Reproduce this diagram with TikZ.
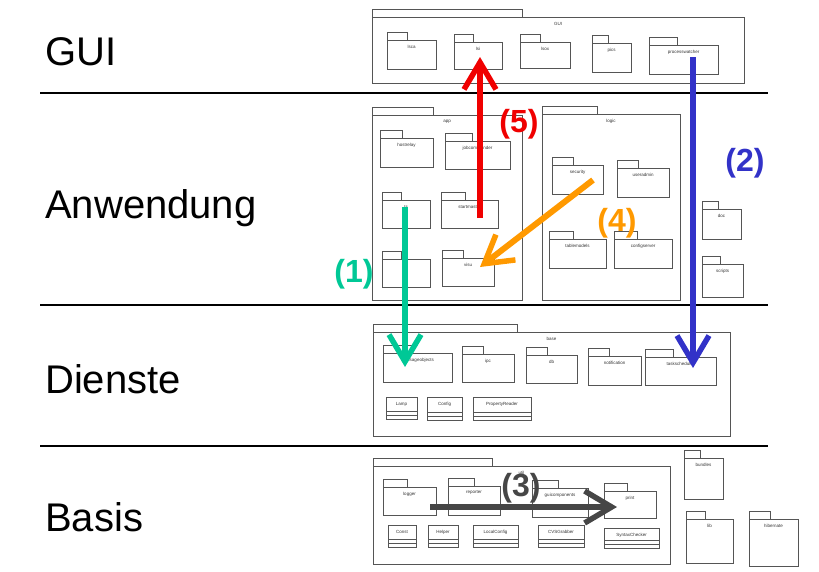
\documentclass[tikz,border=0pt]{standalone}
\usepackage{fontspec}
\setmainfont{Liberation Sans}
\usetikzlibrary{arrows.meta,fit}

\definecolor{c1}{RGB}{0,200,150}
\definecolor{c2}{RGB}{50,50,200}
\definecolor{c3}{RGB}{70,70,70}
\definecolor{c4}{RGB}{255,153,0}
\definecolor{c5}{RGB}{240,0,0}
\definecolor{pkggray}{RGB}{85,85,85}

\tikzset{
  pkgline/.style={draw=pkggray,line width=1pt},
  pkgbody/.style={pkgline,inner sep=0pt,outer sep=0pt},
  pkgtext/.style={font=\fontsize{4.5}{5}\selectfont,inner sep=0pt,text=black!80},
  layer/.style={font=\fontsize{40}{44}\selectfont,anchor=base west,inner sep=0pt},
  step label/.style={font=\fontsize{32}{36}\selectfont\bfseries,inner sep=0pt},
  dep/.style={line width=6pt,-{Straight Barb[length=27pt,width=32pt,line width=5.5pt]}},
  sep/.style={line width=2.2pt}
}

% folder: name, x1, y1, x2, y2, tab width, text
\newcommand{\folder}[7]{%
  \node[pkgbody,fit={(#2,#3) (#4,#5)}] (#1) {};
  \draw[pkgline] (#1.north west) rectangle ++(#6,-7.5);
  \node[pkgtext] at ([yshift=-7pt]#1.north) {#7};
}
% class: name, x1, y1, x2, y2, text
\newcommand{\cls}[6]{%
  \node[pkgbody,fit={(#2,#3) (#4,#5)}] (#1) {};
  \draw[pkgline] ([yshift=8pt]#1.south west) -- ([yshift=8pt]#1.south east);
  \draw[pkgline] ([yshift=4pt]#1.south west) -- ([yshift=4pt]#1.south east);
  \node[pkgtext] at ([yshift=-7pt]#1.north) {#6};
}

\begin{document}
\begin{tikzpicture}[x=1pt,y=-1pt]
  \useasboundingbox (0,0) rectangle (819,571);

  \draw (45,65) node[layer] (gui) {GUI};
  \draw (45,218) node[layer] (anwendung) {Anwendung};
  \draw (45,393) node[layer] (dienste) {Dienste};
  \draw (45,531) node[layer] (basis) {Basis};

  \coordinate (sepA0) at (40,93);  \coordinate (sepA1) at (768,93);
  \coordinate (sepB0) at (40,305); \coordinate (sepB1) at (768,305);
  \coordinate (sepC0) at (40,446); \coordinate (sepC1) at (768,446);
  \draw[sep] (sepA0) -- (sepA1);
  \draw[sep] (sepB0) -- (sepB1);
  \draw[sep] (sepC0) -- (sepC1);

  \folder{guipkg}{372}{17}{744}{83}{150}{GUI}
  \folder{lsca}{387}{40}{436}{69}{20}{lsca}
  \folder{lsi}{454}{42}{502}{69}{19}{lsi}
  \folder{lsox}{520}{42}{570}{68}{20}{lsox}
  \folder{pics}{592}{43}{631}{72}{16}{pics}
  \folder{processwatcher}{649}{45}{718}{74}{28}{processwatcher}

  \folder{app}{372}{115}{522}{300}{61}{app}
  \folder{hostrelay}{380}{138}{433}{167}{22}{hostrelay}
  \folder{jobcommander}{445}{141}{510}{169}{27}{jobcommander}
  \folder{ts}{382}{200}{430}{228}{19}{ts}
  \folder{startmaster}{441}{200}{498}{228}{24}{startmaster}
  \folder{ui}{382}{259}{430}{287}{19}{ui}
  \folder{visu}{442}{258}{494}{286}{21}{visu}

  \folder{logic}{542}{114}{680}{300}{55}{logic}
  \folder{security}{552}{165}{603}{194}{21}{security}
  \folder{useradmin}{617}{168}{669}{197}{21}{useradmin}
  \folder{tablemodels}{549}{239}{606}{268}{24}{tablemodels}
  \folder{configserver}{614}{239}{672}{268}{23}{configserver}

  \folder{doc}{702}{209}{741}{239}{16}{doc}
  \folder{scripts}{702}{264}{743}{297}{18}{scripts}

  \folder{base}{373}{332}{730}{436}{144}{base}
  \folder{messageobjects}{383}{353}{452}{382}{29}{messageobjects}
  \folder{ipc}{462}{354}{514}{382}{21}{ipc}
  \folder{db}{526}{355}{577}{383}{21}{db}
  \folder{notification}{588}{356}{641}{385}{21}{notification}
  \folder{taskscheduler}{645}{357}{716}{385}{28}{taskscheduler}
  \cls{lamp}{386}{397}{417}{419}{Lamp}
  \cls{config}{427}{397}{462}{420}{Config}
  \cls{propertyreader}{473}{397}{531}{420}{PropertyReader}

  \folder{util}{373}{466}{670}{564}{119}{util}
  \folder{logger}{383}{487}{436}{515}{24}{logger}
  \folder{reporter}{448}{486}{500}{515}{26}{reporter}
  \folder{guicomponents}{532}{488}{588}{517}{26}{guicomponents}
  \folder{print}{604}{491}{656}{518}{23}{print}
  \cls{const}{388}{525}{416}{547}{Const}
  \cls{helper}{428}{525}{458}{547}{Helper}
  \cls{localconfig}{473}{525}{518}{547}{LocalConfig}
  \cls{cvsgrabber}{538}{525}{584}{547}{CVSGrabber}
  \cls{syntaxchecker}{604}{528}{659}{548}{SyntaxChecker}

  \folder{bundles}{684}{458}{723}{499}{16}{bundles}
  \folder{lib}{686}{519}{733}{563}{19}{lib}
  \folder{hibernate}{749}{519}{798}{566}{21}{hibernate}

  \coordinate (from1) at (405,207); \coordinate (to1) at (405,367);
  \coordinate (from2) at (693,57);  \coordinate (to2) at (693,368);
  \coordinate (from3) at (430,507); \coordinate (to3) at (617,507);
  \coordinate (from4) at (593,180); \coordinate (to4) at (480,267);
  \coordinate (from5) at (480,218); \coordinate (to5) at (480,57);

  \draw[dep,c1] (from1) -- (to1);
  \draw[dep,c2] (from2) -- (to2);
  \draw[dep,c3] (from3) -- (to3);
  \draw[dep,c4] (from4) -- (to4);
  \draw[dep,c5] (from5) -- (to5);

  \draw (354,274) node[step label,text=c1] (n1) {(1)};
  \draw (745,163) node[step label,text=c2] (n2) {(2)};
  \draw (521,488) node[step label,text=c3] (n3) {(3)};
  \draw (617,223) node[step label,text=c4] (n4) {(4)};
  \draw (519,124) node[step label,text=c5] (n5) {(5)};
\end{tikzpicture}
\end{document}
